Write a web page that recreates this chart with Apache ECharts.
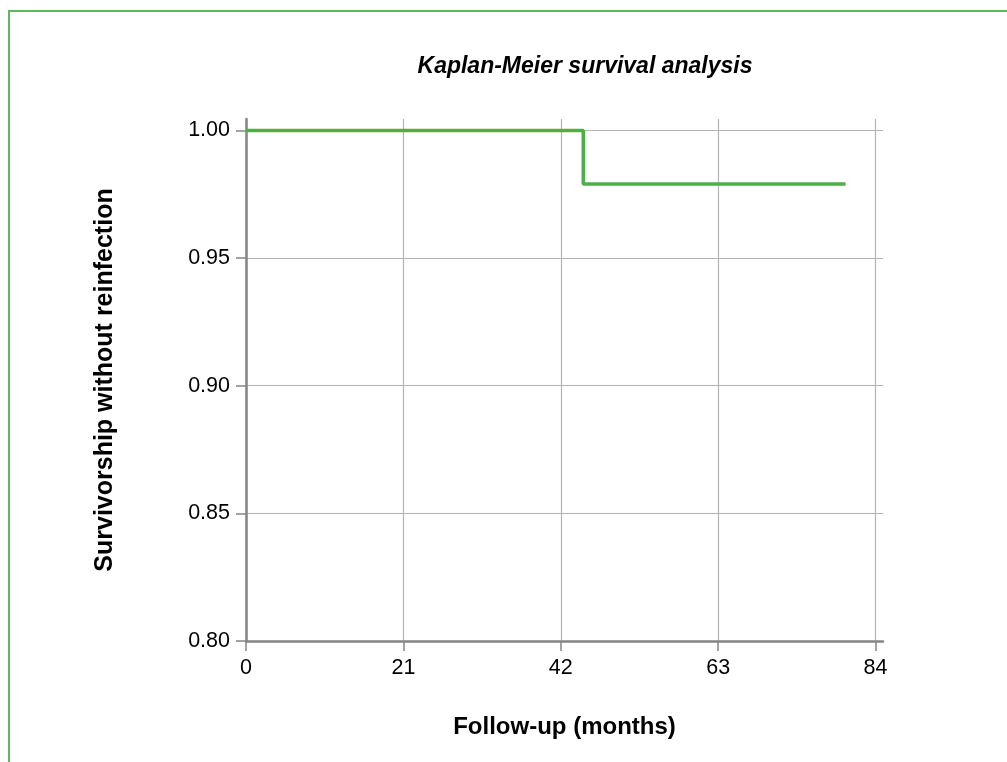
<!DOCTYPE html>
<html>
<head>
<meta charset="utf-8">
<script src="https://cdn.jsdelivr.net/npm/echarts@6/dist/echarts.min.js"></script>
<style>
  html, body { margin: 0; padding: 0; background: #fff; }
  #frame {
    position: absolute; left: 8px; top: 10px; width: 1007px; height: 762px;
    border-left: 2px solid #62b75a; border-top: 2px solid #62b75a;
  }
  #chart { position: absolute; left: 0; top: 0; width: 1007px; height: 762px; }
</style>
</head>
<body>
<div id="frame"></div>
<div id="chart"></div>
<script>
// follow-up time (months) and survival estimate
const months = [0, 45, 80];
const survival = [1.0, 0.979, 0.979];
const xTicks = [0, 21, 42, 63, 84];
const yTicks = [0.8, 0.85, 0.9, 0.95, 1.0];

const myChart = echarts.init(document.getElementById("chart"));
const font = "'Liberation Sans', Arial, Helvetica, sans-serif";

const option = {
  animation: false,
  title: {
    text: "Kaplan-Meier survival analysis",
    left: 580,
    top: 50,
    textAlign: "center",
    textStyle: { fontFamily: font, fontSize: 23, fontWeight: "bold", fontStyle: "italic", color: "#000" },
  },
  grid: { left: 246, top: 119, right: 124, bottom: 121, containLabel: false },
  xAxis: {
    type: "value",
    min: 0,
    max: 85,
    name: "Follow-up (months)",
    nameLocation: "middle",
    nameGap: 74,
    nameTextStyle: { fontFamily: font, fontSize: 24, fontWeight: "bold", color: "#000" },
    axisLine: { show: true, onZero: false, lineStyle: { color: "#858585", width: 2.5 } },
    axisTick: { show: true, length: 10, customValues: xTicks, lineStyle: { color: "#858585", width: 1.5 } },
    axisLabel: { customValues: xTicks, margin: 16, fontFamily: font, fontSize: 21.5, color: "#000" },
    splitLine: { show: true, lineStyle: { color: "#b4b4b4", width: 1.2 } },
  },
  yAxis: {
    type: "value",
    min: 0.8,
    max: 1.0045,
    name: "Survivorship without reinfection",
    nameLocation: "middle",
    nameGap: 128,
    nameTextStyle: { fontFamily: font, fontSize: 25, fontWeight: "bold", color: "#000" },
    axisLine: { show: true, onZero: false, lineStyle: { color: "#858585", width: 2.5 } },
    axisTick: { show: true, length: 10, customValues: yTicks, lineStyle: { color: "#858585", width: 1.5 } },
    axisLabel: {
      customValues: yTicks,
      margin: 16,
      fontFamily: font,
      fontSize: 21.5,
      color: "#000",
      formatter: (v) => v.toFixed(2),
    },
    splitLine: { show: true, lineStyle: { color: "#b4b4b4", width: 1.2 } },
  },
  series: [
    {
      type: "line",
      step: "end",
      data: months.map((m, i) => [m, survival[i]]),
      showSymbol: false,
      lineStyle: { color: "#4caf47", width: 3.5 },
      z: 5,
    },
  ],
};

myChart.setOption(option);
</script>
</body>
</html>
